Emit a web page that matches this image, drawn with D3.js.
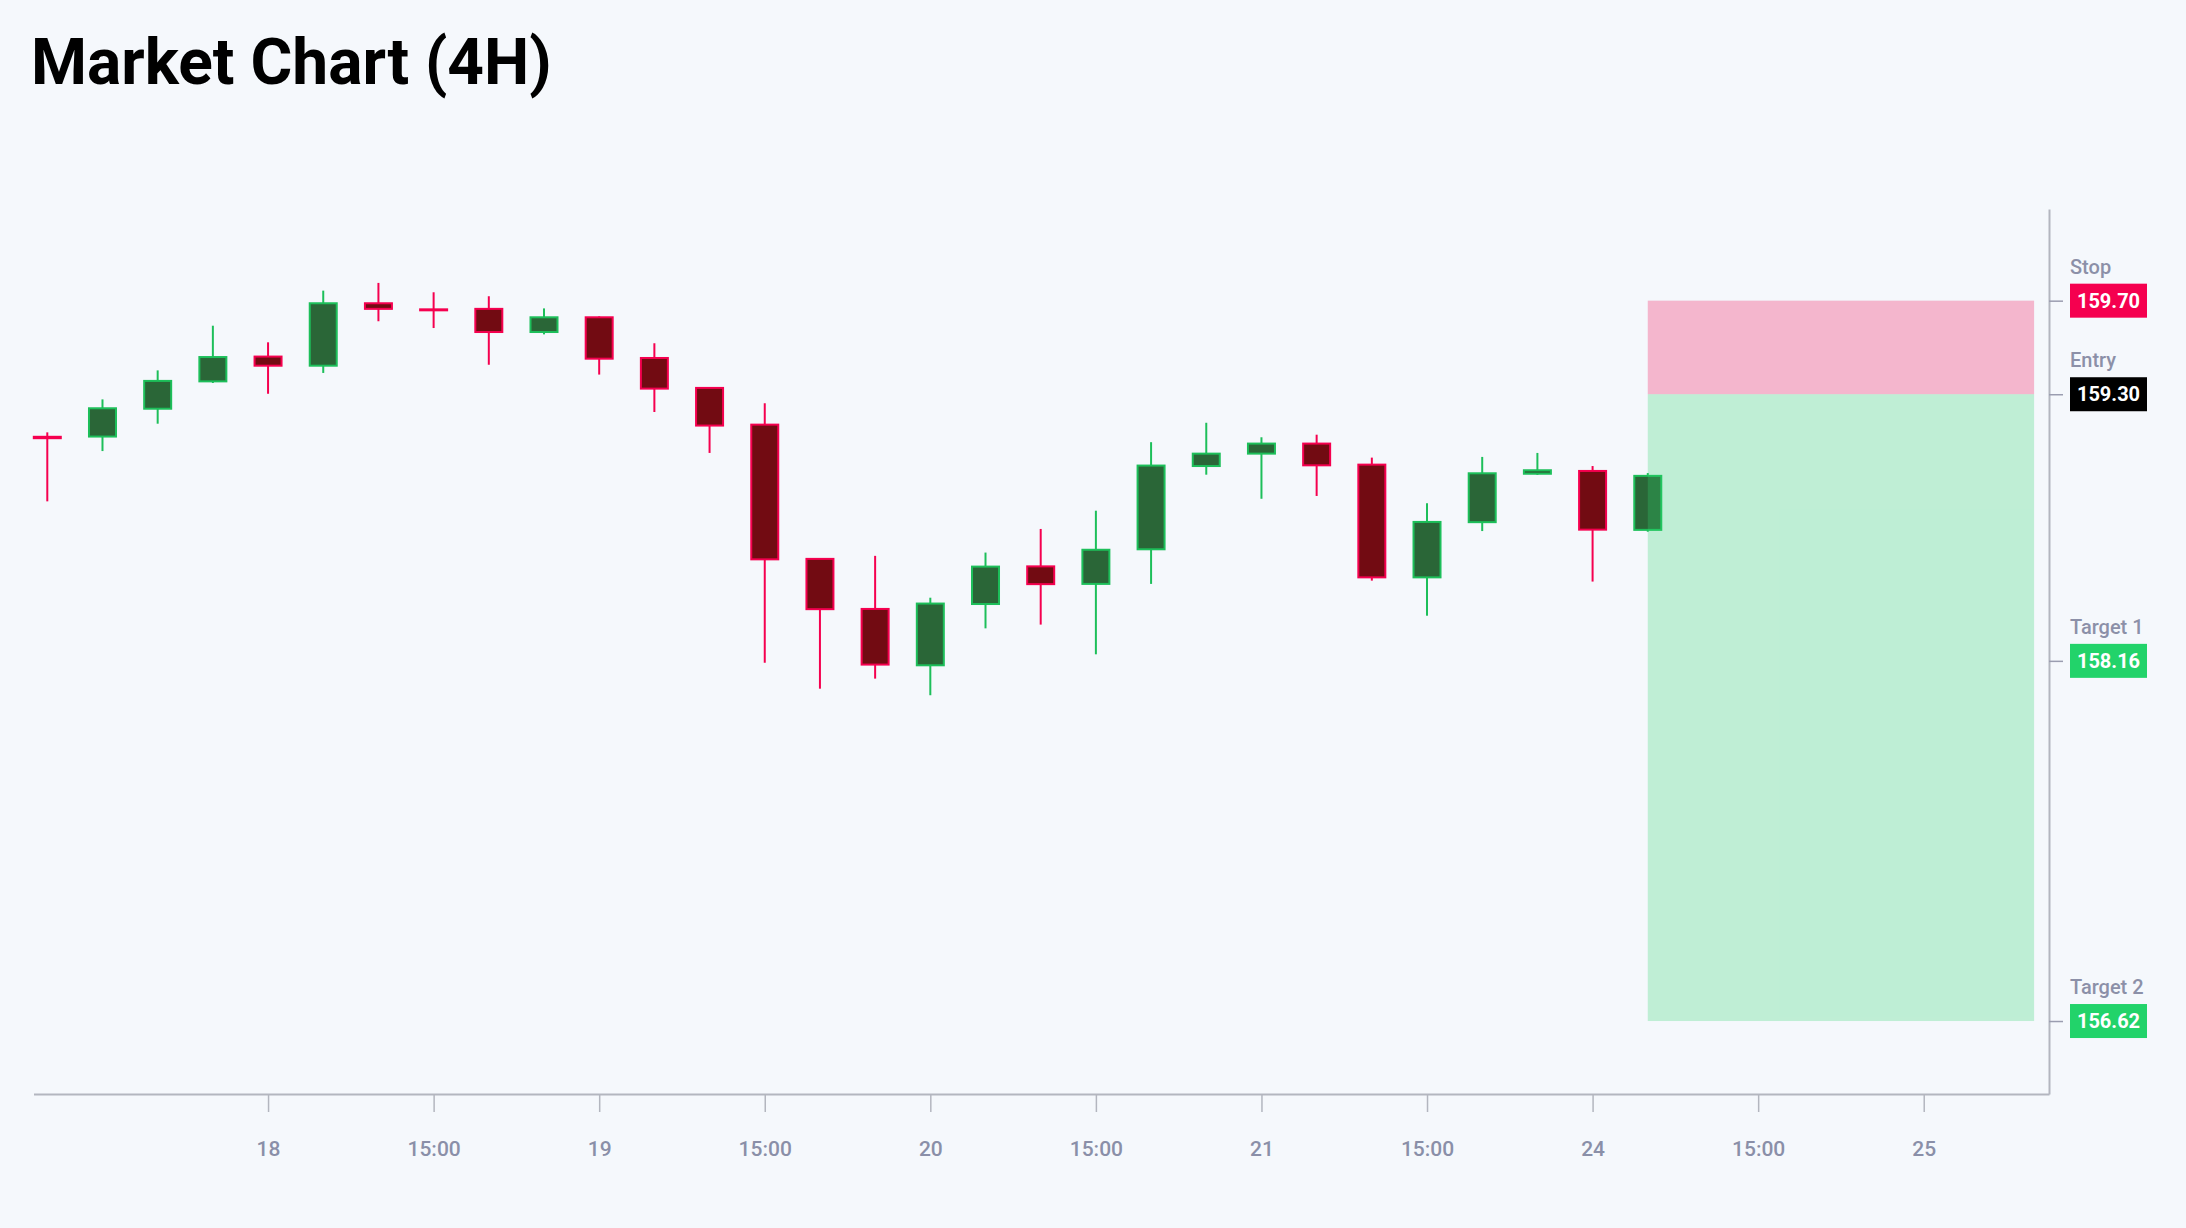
<!DOCTYPE html>
<html>
  <head>
    <meta charset="utf-8">
    <title>Market Chart (4H)</title>
    <script type="text/javascript" src="https://cdn.jsdelivr.net/npm/d3@7/dist/d3.min.js"></script>
    <style>
      body { margin: 0; background: #f5f8fc; font-family: Roboto, "Noto Sans", sans-serif; }
    </style>
  </head>
  <body>
    <script>

// size of the whole picture
var w = 2186;
var h = 1228;

// candles, one per 4H bar (index is the bar number, weekend skipped)
var opens  = [159.118, 159.119, 159.238, 159.355, 159.461, 159.422, 159.689, 159.663, 159.665, 159.566,
              159.629, 159.455, 159.327, 159.170, 158.596, 158.382, 158.141, 158.403, 158.564, 158.489,
              158.637, 158.993, 159.046, 159.089, 158.999, 158.517, 158.753, 158.960, 158.972, 158.720];
var highs  = [159.137, 159.278, 159.402, 159.593, 159.522, 159.743, 159.776, 159.736, 159.719, 159.667,
              159.633, 159.518, 159.330, 159.261, 158.599, 158.609, 158.430, 158.623, 158.724, 158.802,
              159.095, 159.178, 159.116, 159.127, 159.029, 158.834, 159.032, 159.049, 158.993, 158.963];
var lows   = [158.842, 159.057, 159.174, 159.348, 159.302, 159.391, 159.612, 159.583, 159.426, 159.556,
              159.384, 159.224, 159.049, 158.152, 158.041, 158.084, 158.013, 158.299, 158.315, 158.188,
              158.489, 158.956, 158.853, 158.865, 158.503, 158.353, 158.715, 158.955, 158.499, 158.712];
var closes = [159.112, 159.240, 159.357, 159.459, 159.422, 159.689, 159.665, 159.660, 159.566, 159.629,
              159.452, 159.324, 159.166, 158.594, 158.381, 158.144, 158.405, 158.563, 158.488, 158.635,
              158.995, 159.046, 159.089, 158.996, 158.517, 158.754, 158.962, 158.975, 158.721, 158.951];

// x axis ticks (bar index and text)
var tickBars   = [4, 7, 10, 13, 16, 19, 22, 25, 28, 31, 34];
var tickLabels = ["18", "15:00", "19", "15:00", "20", "15:00", "21", "15:00", "24", "15:00", "25"];

// trade levels
var levelNames  = ["Stop", "Entry", "Target 1", "Target 2"];
var levelPrices = [159.70, 159.30, 158.16, 156.62];
var levelColors = ["#f5004f", "#000000", "#22d36a", "#22d36a"];

// trade zone runs from the last bar to bar 36
var zoneStart = 29;
var zoneEnd = 36;

var candles = opens.map(function(o, i) {
  return { i: i, o: o, h: highs[i], l: lows[i], c: closes[i] };
});

var svg = d3.select("body")
  .append("svg")
  .attr("width", w)
  .attr("height", h);

// scales
var xScale = d3.scaleLinear()
  .domain([-0.25, 36.27])
  .range([33.5, 2049]);

var yScale = d3.scaleLinear()
  .domain([156.308, 160.092])
  .range([1094, 209]);

var bodyW = 27;

// title
svg.append("text")
  .attr("x", 31)
  .attr("y", 84)
  .attr("font-size", 64)
  .attr("font-weight", 700)
  .attr("fill", "#000")
  .text("Market Chart (4H)");

// candles: wick then body
var g = svg.append("g");

g.selectAll("line.wick")
  .data(candles)
  .enter()
  .append("line")
  .attr("class", "wick")
  .attr("x1", function(d) { return xScale(d.i); })
  .attr("x2", function(d) { return xScale(d.i); })
  .attr("y1", function(d) { return yScale(d.h); })
  .attr("y2", function(d) { return yScale(d.l); })
  .attr("stroke", function(d) { return d.c >= d.o ? "#1dbf5a" : "#f5004f"; })
  .attr("stroke-width", 2);

g.selectAll("rect.body")
  .data(candles)
  .enter()
  .append("rect")
  .attr("class", "body")
  .attr("x", function(d) { return xScale(d.i) - bodyW / 2; })
  .attr("y", function(d) { return yScale(Math.max(d.o, d.c)); })
  .attr("width", bodyW)
  .attr("height", function(d) { return Math.max(1, Math.abs(yScale(d.o) - yScale(d.c))); })
  .attr("fill", function(d) { return d.c >= d.o ? "#2a6637" : "#720b12"; })
  .attr("stroke", function(d) { return d.c >= d.o ? "#1dbf5a" : "#f5004f"; })
  .attr("stroke-width", 2);

// risk (stop to entry) and reward (entry to target 2) zones, see-through over the last candle
svg.append("rect")
  .attr("x", xScale(zoneStart))
  .attr("y", yScale(levelPrices[0]))
  .attr("width", xScale(zoneEnd) - xScale(zoneStart))
  .attr("height", yScale(levelPrices[1]) - yScale(levelPrices[0]))
  .attr("fill", "#f10c51")
  .attr("fill-opacity", 0.28);

svg.append("rect")
  .attr("x", xScale(zoneStart))
  .attr("y", yScale(levelPrices[1]))
  .attr("width", xScale(zoneEnd) - xScale(zoneStart))
  .attr("height", yScale(levelPrices[3]) - yScale(levelPrices[1]))
  .attr("fill", "#31d471")
  .attr("fill-opacity", 0.28);

// bottom axis
var xAxis = d3.axisBottom(xScale)
  .tickValues(tickBars)
  .tickFormat(function(d, i) { return tickLabels[i]; })
  .tickSizeInner(18)
  .tickSizeOuter(0)
  .tickPadding(29);

var xg = svg.append("g")
  .attr("transform", "translate(0," + 1094 + ")")
  .call(xAxis);
xg.select(".domain").attr("stroke", "#b3b6bf").attr("stroke-width", 2);
xg.selectAll(".tick line").attr("stroke", "#b3b6bf").attr("stroke-width", 1.5);
xg.selectAll(".tick text")
  .attr("fill", "#8a8fa8")
  .attr("font-size", 21)
  .attr("font-weight", 500)
  .attr("font-family", "Roboto, sans-serif");

// right axis with only the trade levels
var yAxis = d3.axisRight(yScale)
  .tickValues(levelPrices)
  .tickFormat("")
  .tickSizeInner(14)
  .tickSizeOuter(0);

var yg = svg.append("g")
  .attr("transform", "translate(" + 2049 + ",0)")
  .call(yAxis);
yg.select(".domain").attr("stroke", "#b3b6bf").attr("stroke-width", 2);
yg.selectAll(".tick line").attr("stroke", "#9a9db0").attr("stroke-width", 1.5);

// level labels: name above, price in a coloured box
var lab = svg.selectAll("g.level")
  .data(levelPrices)
  .enter()
  .append("g")
  .attr("class", "level")
  .attr("transform", function(d) { return "translate(2070," + yScale(d) + ")"; });

lab.append("text")
  .attr("x", 0)
  .attr("y", -27)
  .attr("font-size", 20)
  .attr("font-weight", 500)
  .attr("fill", "#8c90a8")
  .text(function(d, i) { return levelNames[i]; });

lab.append("rect")
  .attr("x", 0)
  .attr("y", -17)
  .attr("width", 77)
  .attr("height", 34)
  .attr("fill", function(d, i) { return levelColors[i]; });

lab.append("text")
  .attr("x", 38.5)
  .attr("y", 7)
  .attr("text-anchor", "middle")
  .attr("font-size", 20)
  .attr("font-weight", 700)
  .attr("fill", "#fff")
  .text(function(d) { return d.toFixed(2); });

    </script>
  </body>
</html>
